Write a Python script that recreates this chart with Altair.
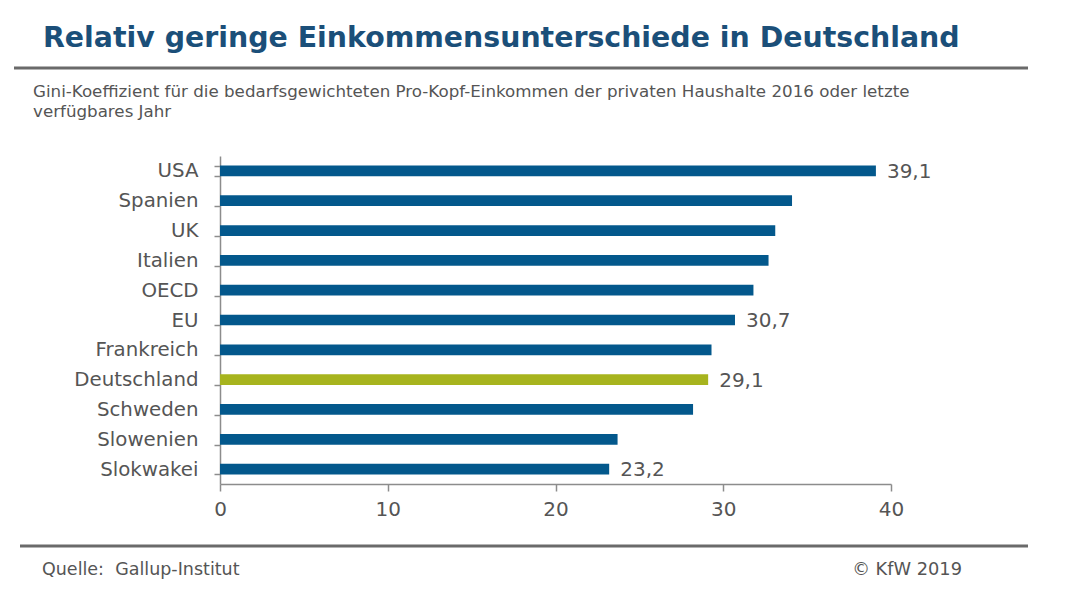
import altair as alt
import pandas as pd

countries = ["USA", "Spanien", "UK", "Italien", "OECD", "EU", "Frankreich",
             "Deutschland", "Schweden", "Slowenien", "Slokwakei"]
gini = [39.1, 34.1, 33.1, 32.7, 31.8, 30.7, 29.3, 29.1, 28.2, 23.7, 23.2]
labeled = ["USA", "EU", "Deutschland", "Slokwakei"]
highlight = "Deutschland"
x_ticks = [0, 10, 20, 30, 40]

title_text = "Relativ geringe Einkommensunterschiede in Deutschland"
subtitle_lines = [
    "Gini-Koeffizient für die bedarfsgewichteten Pro-Kopf-Einkommen der privaten Haushalte 2016 oder letzte",
    "verfügbares Jahr",
]
source_text = "Quelle:\u00a0 Gallup-Institut"
copyright_text = "© KfW 2019"

BLUE = "#03588C"
GREEN = "#A7B41E"
TITLE_C = "#1B4F79"
GRAY = "#555555"
AXIS_C = "#8C8C8C"
FONT = "DejaVu Sans"

df = pd.DataFrame({"land": countries, "gini": gini})
df["farbe"] = ["hl" if c == highlight else "std" for c in countries]
df["label"] = [f"{v:.1f}".replace(".", ",") if c in labeled else "" for c, v in zip(countries, gini)]

one = pd.DataFrame({"k": [0]})

y_enc = alt.Y("land:N", sort=countries, title=None,
              scale=alt.Scale(paddingInner=0.64, paddingOuter=0.32),
              axis=alt.Axis(tickBand="extent", domainColor=AXIS_C, tickColor=AXIS_C,
                            tickSize=6, labelFontSize=19.8, labelColor=GRAY, labelFont=FONT,
                            labelPadding=16, domainWidth=1.5, tickWidth=1.5))
x_enc = alt.X("gini:Q", title=None, scale=alt.Scale(domain=[0, 40], nice=False),
              axis=alt.Axis(values=x_ticks, format="d", grid=False, domainColor=AXIS_C,
                            tickColor=AXIS_C, tickSize=7, labelFontSize=20, labelColor=GRAY,
                            labelFont=FONT, labelPadding=8, domainWidth=1.5, tickWidth=1.5,
                            labelFlush=False))

bars = alt.Chart(df).mark_bar().encode(
    x=x_enc, y=y_enc,
    color=alt.Color("farbe:N", scale=alt.Scale(domain=["std", "hl"], range=[BLUE, GREEN]), legend=None),
)

labels = alt.Chart(df).mark_text(align="left", baseline="middle", dx=11, dy=1,
                                 fontSize=20, color=GRAY, font=FONT).encode(
    x="gini:Q", y=alt.Y("land:N", sort=countries), text="label:N")

def txt(s, x, y, size, color, weight="normal", align="left"):
    return alt.Chart(one).mark_text(text=s, align=align, baseline="alphabetic", fontSize=size,
                                    color=color, font=FONT, fontWeight=weight).encode(
        x=alt.value(x), y=alt.value(y))

def hline(y, x1, x2, w, color):
    return alt.Chart(one).mark_rule(color=color, strokeWidth=w).encode(
        x=alt.value(x1), x2=alt.value(x2), y=alt.value(y))

deco = [
    txt(title_text, -177, -109, 28.4, TITLE_C, weight="bold"),
    hline(-88, -206, 808, 3, "#6A6A6A"),
    txt(subtitle_lines[0], -187, -59, 16.7, GRAY),
    txt(subtitle_lines[1], -187, -39, 16.7, GRAY),
    hline(390, -200, 808, 3, "#6A6A6A"),
    txt(source_text, -178, 419, 17.5, GRAY),
    txt(copyright_text, 742, 419, 17.8, GRAY, align="right"),
]

chart = alt.layer(bars, labels, *deco).properties(
    width=671, height=328,
    background="white",
    autosize=alt.AutoSizeParams(type="none"),
    padding={"left": 212, "top": 148, "right": 181, "bottom": 116},
).configure_view(stroke=None)

chart.save("out.html", embed_options={"renderer": "svg", "actions": False})
